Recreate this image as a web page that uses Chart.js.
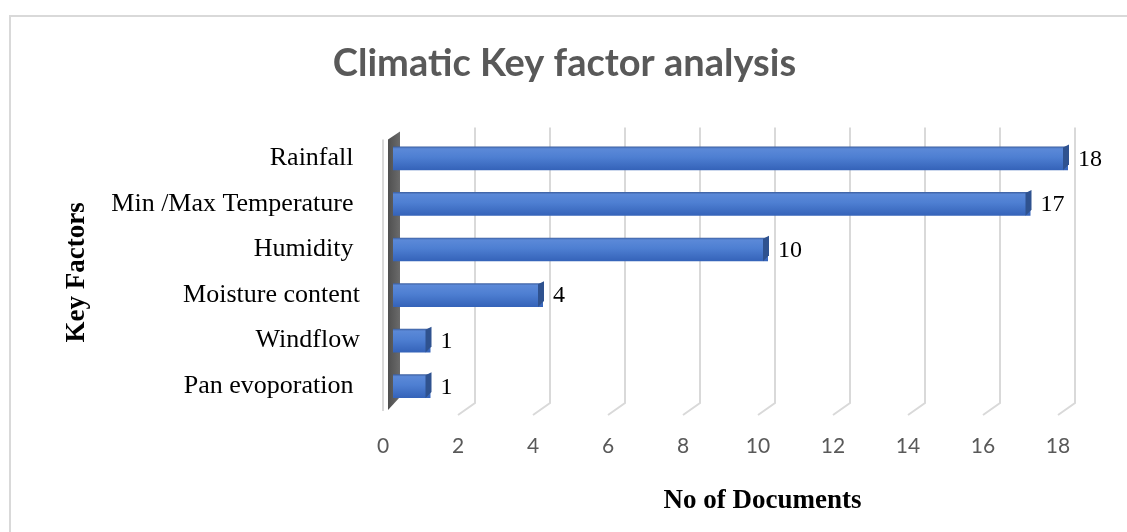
<!DOCTYPE html>
<html>
<head>
<meta charset="utf-8">
<script src="https://cdn.jsdelivr.net/npm/chart.js@4.4.1/dist/chart.umd.min.js"></script>
<style>
    html, body { margin: 0; padding: 0; background: #ffffff; overflow: hidden; }
    #frame {
        position: absolute; left: 9px; top: 15px; width: 1200px; height: 600px;
        border: 2px solid #d9d9d9;
    }
    #keyFactorChart { position: absolute; left: 0; top: 0; }
</style>
</head>
<body>
<div id="frame"></div>
<canvas id="keyFactorChart" width="1127" height="532"></canvas>
<script>
// --- data ---
const categories = ['Rainfall ', 'Min /Max Temperature ', 'Humidity ', 'Moisture content', 'Windflow', 'Pan evoporation '];
const documentCounts = [18, 17, 10, 4, 1, 1];
const xTickMin = 0;
const xTickMax = 18;
const xTickStep = 2;

const chartTitle = 'Climatic Key factor analysis';
const xAxisTitle = 'No of Documents';
const yAxisTitle = 'Key Factors';

// 3D look: back wall, floor slants, bar end caps, value labels
const fake3d = {
    id: 'fake3d',
    beforeDatasetsDraw(chart) {
        const { ctx, chartArea, scales } = chart;
        const x = scales.x;
        const top = chartArea.top, bottom = chartArea.bottom, left = chartArea.left;
        ctx.save();

        // thin front edge line of the wall
        ctx.strokeStyle = '#d9d9d9';
        ctx.lineWidth = 2;
        ctx.beginPath();
        ctx.moveTo(left - 10, top + 4);
        ctx.lineTo(left - 10, bottom + 2);
        ctx.stroke();

        // gridlines on the back wall + floor slant
        x.ticks.forEach(t => {
            if (t.value === xTickMin) return;
            const px = x.getPixelForValue(t.value);
            ctx.beginPath();
            ctx.moveTo(px + 7, top - 8);
            ctx.lineTo(px + 7, bottom - 6);
            ctx.lineTo(px - 10, bottom + 6);
            ctx.stroke();
        });

        // dark side wall
        const g = ctx.createLinearGradient(left - 5, 0, left + 7, 0);
        g.addColorStop(0, '#4f4f4f');
        g.addColorStop(1, '#6b6b6b');
        ctx.fillStyle = g;
        ctx.beginPath();
        ctx.moveTo(left - 5, top + 4);
        ctx.lineTo(left + 7, top - 4);
        ctx.lineTo(left + 7, bottom - 12);
        ctx.lineTo(left - 5, bottom + 1);
        ctx.closePath();
        ctx.fill();
        ctx.restore();
    },
    afterDatasetsDraw(chart) {
        const { ctx, chartArea } = chart;
        const meta = chart.getDatasetMeta(0);
        ctx.save();
        meta.data.forEach((bar, i) => {
            const half = bar.height / 2;
            const t = bar.y - half, b = bar.y + half;
            // end cap
            ctx.fillStyle = '#2f528f';
            ctx.beginPath();
            ctx.moveTo(bar.x - 5, t + 1);
            ctx.lineTo(bar.x + 1, t - 2);
            ctx.lineTo(bar.x + 1, b - 6);
            ctx.lineTo(bar.x - 5, b);
            ctx.closePath();
            ctx.fill();
            // value label
            ctx.fillStyle = '#000000';
            ctx.font = '24px "Liberation Serif", "Times New Roman", serif';
            ctx.textAlign = 'left';
            ctx.textBaseline = 'middle';
            ctx.fillText(String(documentCounts[i]), bar.x + 10, bar.y + 1);
        });

        // x axis title, sits a little right of the plot centre
        ctx.font = 'bold 27px "Liberation Serif", "Times New Roman", serif';
        ctx.textAlign = 'center';
        ctx.fillText(xAxisTitle, (chartArea.left + chartArea.right) / 2 + 32, 501);
        ctx.restore();
    }
};

const canvas = document.getElementById('keyFactorChart');
const ctx = canvas.getContext('2d');

new Chart(ctx, {
    type: 'bar',
    data: {
        labels: categories,
        datasets: [{
            label: yAxisTitle,
            data: documentCounts,
            backgroundColor: function (context) {
                const chart = context.chart;
                const yScale = chart.scales.y;
                if (!chart.chartArea || !yScale || context.dataIndex === undefined) return '#4472c4';
                const c = yScale.getPixelForValue(context.dataIndex);
                const g = chart.ctx.createLinearGradient(0, c - 12, 0, c + 12);
                g.addColorStop(0, '#3a5c9c');
                g.addColorStop(0.1, '#5b89d8');
                g.addColorStop(0.45, '#4e7fd2');
                g.addColorStop(1, '#3462b8');
                return g;
            },
            borderWidth: 0,
            categoryPercentage: 1.0,
            barPercentage: 0.52
        }]
    },
    options: {
        indexAxis: 'y',
        responsive: false,
        animation: false,
        devicePixelRatio: 1,
        layout: {
            padding: { left: 61, right: 59, top: 0, bottom: 0 }
        },
        scales: {
            x: {
                min: xTickMin,
                max: xTickMax,
                afterFit: function (scale) { scale.height = 123; },
                ticks: {
                    stepSize: xTickStep,
                    padding: 25,
                    labelOffset: -10,
                    color: '#595959',
                    font: { family: 'Lato', size: 21 }
                },
                grid: { display: false, drawTicks: false },
                border: { display: false }
            },
            y: {
                afterFit: function (scale) { scale.width = 332; },
                ticks: {
                    padding: 33,
                    color: '#000000',
                    font: { family: '"Liberation Serif", "Times New Roman", serif', size: 26 }
                },
                grid: { display: false, drawTicks: false },
                border: { display: false },
                title: {
                    display: true,
                    text: yAxisTitle,
                    color: '#000000',
                    padding: { top: 0, bottom: 0 },
                    font: { family: '"Liberation Serif", "Times New Roman", serif', size: 27, weight: 'bold' }
                }
            }
        },
        plugins: {
            legend: { display: false },
            tooltip: { enabled: false },
            title: {
                display: true,
                text: chartTitle,
                color: '#595959',
                padding: { top: 41, bottom: 49 },
                font: { family: 'Lato', size: 38, weight: 'bold' }
            }
        }
    },
    plugins: [fake3d]
});
</script>
</body>
</html>
